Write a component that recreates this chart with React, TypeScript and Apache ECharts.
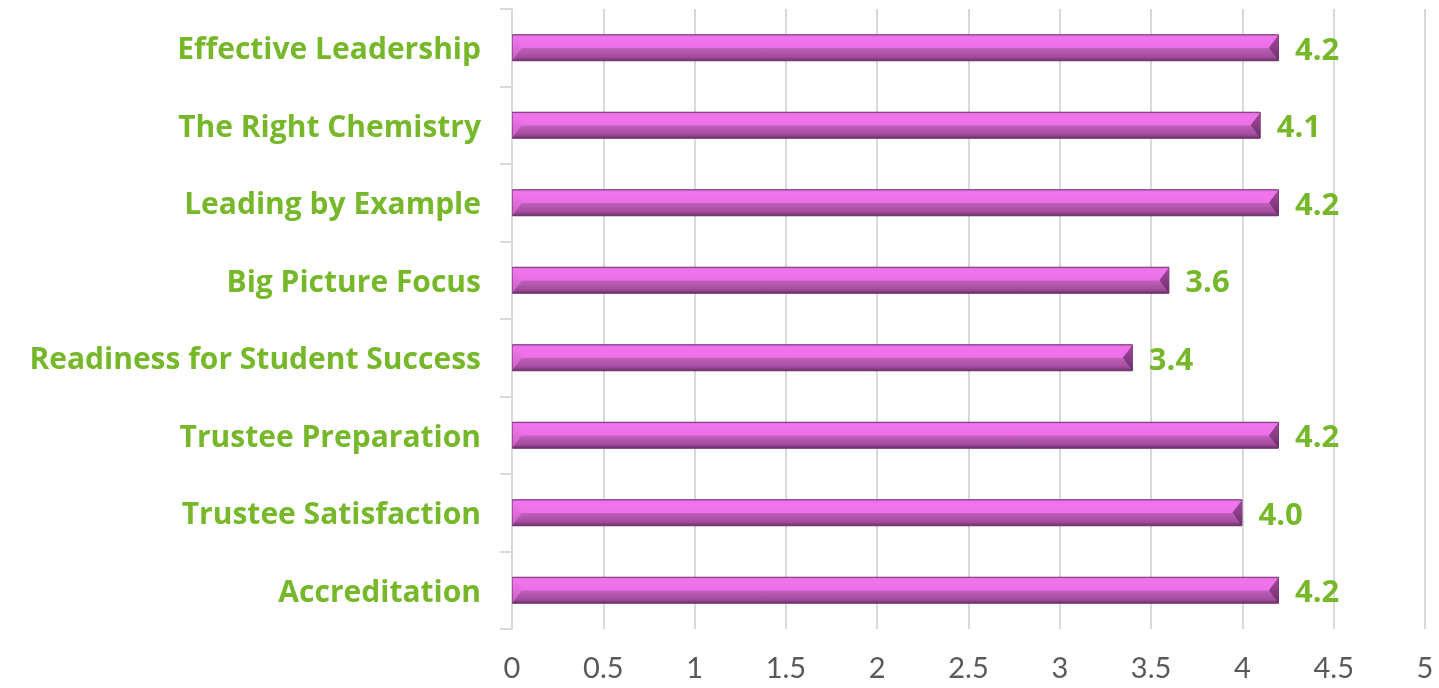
import React, { useEffect, useRef } from "react";
import * as echarts from "echarts";

const categories = [
  "Accreditation",
  "Trustee Satisfaction",
  "Trustee Preparation",
  "Readiness for Student Success",
  "Big Picture Focus",
  "Leading by Example",
  "The Right Chemistry",
  "Effective Leadership",
];
const values = [4.2, 4.0, 4.2, 3.4, 3.6, 4.2, 4.1, 4.2];
const xTicks = { min: 0, max: 5, interval: 0.5 };

const GREEN = "#76b82a";
const BAR_H = 27;
const BEVEL = 10;

export default function App() {
  const ref = useRef<HTMLDivElement>(null);
  useEffect(() => {
    const chart = echarts.init(ref.current!, null, { renderer: "svg" });
    chart.setOption({
      animation: false,
      grid: { left: 512, right: 14, top: 9, bottom: 59, containLabel: false },
      xAxis: {
        type: "value",
        min: xTicks.min,
        max: xTicks.max,
        interval: xTicks.interval,
        axisLine: { show: false },
        axisTick: { show: false },
        splitLine: { show: true, lineStyle: { color: "#d9d9d9", width: 2 } },
        axisLabel: {
          color: "#595959",
          fontSize: 29,
          fontFamily: "Lato",
          margin: 23,
        },
      },
      yAxis: {
        type: "category",
        data: categories,
        axisLine: { show: true, lineStyle: { color: "#d9d9d9", width: 2 } },
        axisTick: { show: true, length: 12, lineStyle: { color: "#d9d9d9", width: 2 } },
        axisLabel: {
          color: GREEN,
          fontSize: 30,
          fontWeight: "bold",
          fontFamily: "Open Sans",
          margin: 31,
        },
      },
      series: [
        {
          type: "bar",
          data: values,
          barWidth: BAR_H,
          z: 2,
          itemStyle: {
            borderColor: "#6a2e68",
            borderWidth: 1,
            color: new echarts.graphic.LinearGradient(0, 0, 0, 1, [
              { offset: 0, color: "#e468e0" },
              { offset: 0.1, color: "#f075ec" },
              { offset: 0.5, color: "#ec6fe7" },
              { offset: 0.52, color: "#c060bb" },
              { offset: 0.85, color: "#a34c9e" },
              { offset: 1, color: "#6e306c" },
            ]),
          },
          label: {
            show: true,
            position: "right",
            distance: 16,
            color: GREEN,
            fontSize: 31,
            fontWeight: "bold",
            fontFamily: "Open Sans",
            formatter: (p: any) => Number(p.value).toFixed(1),
          },
        },
        {
          type: "custom",
          z: 3,
          silent: true,
          data: values.map((v, i) => [v, i]),
          encode: { x: 0, y: 1 },
          renderItem: (params: any, api: any) => {
            const v = api.value(0);
            const idx = api.value(1);
            const s = api.coord([0, idx]);
            const e = api.coord([v, idx]);
            const top = s[1] - BAR_H / 2;
            const bot = s[1] + BAR_H / 2;
            const mid = s[1];
            return {
              type: "group",
              children: [
                {
                  type: "polygon",
                  shape: {
                    points: [
                      [s[0] + 0.5, top + 1],
                      [s[0] + BEVEL, mid],
                      [s[0] + 0.5, bot - 1],
                    ],
                  },
                  style: {
                    fill: new echarts.graphic.LinearGradient(0, 0, 0, 1, [
                      { offset: 0, color: "#f27cee" },
                      { offset: 0.5, color: "#e06bdb" },
                      { offset: 1, color: "#c761c1" },
                    ]),
                  },
                },
                {
                  type: "polygon",
                  shape: {
                    points: [
                      [e[0] - 0.5, top + 1],
                      [e[0] - BEVEL, mid],
                      [e[0] - 0.5, bot - 1],
                    ],
                  },
                  style: {
                    fill: new echarts.graphic.LinearGradient(0, 0, 0, 1, [
                      { offset: 0, color: "#a0489b" },
                      { offset: 0.5, color: "#8a3d86" },
                      { offset: 1, color: "#6a2c67" },
                    ]),
                  },
                },
              ],
            };
          },
        },
      ],
    });
    return () => chart.dispose();
  }, []);
  return (
    <div
      ref={ref}
      style={{ position: "fixed", left: 0, top: 0, width: 1439, height: 688 }}
    />
  );
}
